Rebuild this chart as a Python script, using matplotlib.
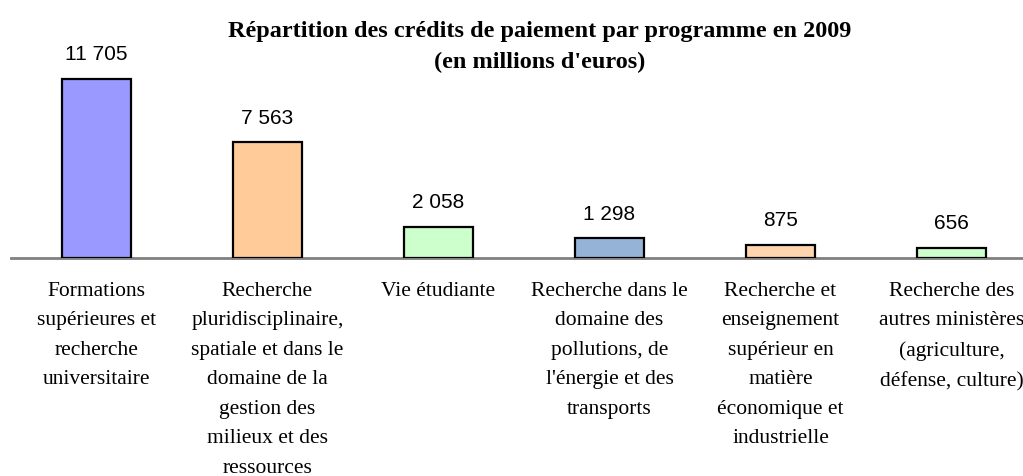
import matplotlib
matplotlib.use("Agg")
import matplotlib.pyplot as plt

# programme labels (line breaks as in the source chart)
programmes = [
    "Formations\nsupérieures et\nrecherche\nuniversitaire",
    "Recherche\npluridisciplinaire,\nspatiale et dans le\ndomaine de la\ngestion des\nmilieux et des\nressources",
    "Vie étudiante",
    "Recherche dans le\ndomaine des\npollutions, de\nl'énergie et des\ntransports",
    "Recherche et\nenseignement\nsupérieur en\nmatière\néconomique et\nindustrielle",
    "Recherche des\nautres ministères\n(agriculture,\ndéfense, culture)",
]
credits = [11705, 7563, 2058, 1298, 875, 656]
value_labels = ["11 705", "7 563", "2 058", "1 298", "875", "656"]
colors = ["#9999FF", "#FFCC99", "#CCFFCC", "#95B3D7", "#FFD5B0", "#CCFFCC"]

title_lines = ["Répartition des crédits de paiement par programme en 2009",
               "(en millions d'euros)"]

W, H = 1023, 476
fig = plt.figure(figsize=(W / 100, H / 100), dpi=100)

# axes: left edge at 11 px, 171 px per category (runs past the right edge),
# baseline 258 px from top, 11 705 -> 179 px high
ymax = 14000
px_per_unit = 179 / 11705
ax_h = ymax * px_per_unit
ax = fig.add_axes([11 / W, (H - 258) / H, 6 * 171 / W, ax_h / H])

x = range(len(credits))
bars = ax.bar(x, credits, width=0.4, color=colors, edgecolor="black",
              linewidth=1.6, zorder=3)
ax.set_xlim(-0.5, 5.5)
ax.set_ylim(0, ymax)

for s in ["top", "right", "left"]:
    ax.spines[s].set_visible(False)
ax.spines["bottom"].set_color("#808080")
ax.spines["bottom"].set_linewidth(2)
ax.set_yticks([])
ax.set_xticks(list(x))
ax.set_xticklabels(programmes, family="Liberation Serif", fontsize=15.5,
                   linespacing=1.75)
ax.tick_params(axis="x", length=0, pad=17)

for b, lab in zip(bars, value_labels):
    ax.annotate(lab, (b.get_x() + b.get_width() / 2, b.get_height()),
                xytext=(0, 10.5), textcoords="offset points", ha="center",
                va="bottom", family="Liberation Sans", fontsize=15)

for i, line in enumerate(title_lines):
    fig.text(540 / W, 1 - (37 + 31 * i) / H, line, ha="center",
             va="baseline", family="Liberation Serif", fontweight="bold",
             fontsize=17.5)

fig.savefig("out.png", dpi=100)
